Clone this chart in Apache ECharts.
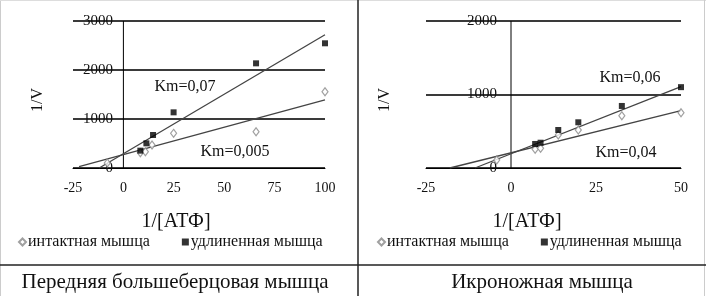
<!DOCTYPE html>
<html><head><meta charset="utf-8">
<script src="https://cdn.jsdelivr.net/npm/echarts@6/dist/echarts.min.js"></script>
<style>html,body{margin:0;padding:0;background:#fff}#c{width:706px;height:296px}</style>
</head><body><div id="c"></div>
<script>
// Left chart: Передняя большеберцовая мышца
const leftIntactX = [-8, 8.4, 10.9, 14.2, 24.9, 65.8, 100];
const leftIntactY = [100, 313, 333, 469, 707, 741, 1558];
const leftElongX = [8.4, 11.4, 14.7, 24.9, 65.8, 100];
const leftElongY = [354, 503, 673, 1136, 2136, 2545];
const leftIntactTrendX = [-22, 100];
const leftIntactTrendY = [28, 1390];
const leftElongTrendX = [-12, 100];
const leftElongTrendY = [0, 2720];
// Right chart: Икроножная мышца
const rightIntactX = [-4.2, 7.1, 8.7, 13.9, 19.8, 32.6, 50];
const rightIntactY = [110, 254, 268, 449, 517, 712, 752];
const rightElongX = [7.1, 8.7, 13.9, 19.8, 32.6, 50];
const rightElongY = [327, 344, 517, 622, 844, 1100];
const rightIntactTrendX = [-18, 50];
const rightIntactTrendY = [0, 780];
const rightElongTrendX = [-10.6, 50];
const rightElongTrendY = [0, 1106];

const names = ['интактная мышца', 'удлиненная мышца'];
const kmLeft = ['Km=0,07', 'Km=0,005'];
const kmRight = ['Km=0,06', 'Km=0,04'];
const titles = ['Передняя большеберцовая мышца', 'Икроножная мышца'];
const xName = '1/[АТФ]';
const yName = '1/V';

const zip = (a, b) => a.map((v, i) => [v, b[i]]);
const FONT = '"Liberation Serif", "Times New Roman", serif';

function xAxis(gi, min, max) {
  return {type: 'value', gridIndex: gi, min: min, max: max, interval: 25,
    axisLine: {onZero: true, lineStyle: {color: '#000', width: 1}},
    axisTick: {show: false}, splitLine: {show: false},
    axisLabel: {margin: 13, color: '#111', fontFamily: FONT, fontSize: 14}};
}
function yAxis(gi, max, labelMargin) {
  return {type: 'value', gridIndex: gi, min: 0, max: max, interval: 1000,
    axisLine: {show: false},
    axisTick: {show: false},
    splitLine: {show: true, lineStyle: {color: '#3a3a3a', width: 2}},
    axisLabel: {inside: true, align: 'right', margin: labelMargin, color: '#111',
      fontFamily: FONT, fontSize: 15, formatter: v => String(v)}};
}
function scatter(name, gi, x, y, isIntact) {
  return {type: 'scatter', name: name, xAxisIndex: gi, yAxisIndex: gi,
    data: zip(x, y), z: 5,
    symbol: isIntact ? 'diamond' : 'rect', symbolSize: isIntact ? [6, 8] : 6,
    itemStyle: isIntact ? {color: '#fff', borderColor: '#888', borderWidth: 1.2} : {color: '#000'}};
}
function trend(gi, x, y) {
  return {type: 'line', xAxisIndex: gi, yAxisIndex: gi, data: zip(x, y),
    symbol: 'none', silent: true, z: 4,
    lineStyle: {color: '#444', width: 1.3}};
}
function yAxisLine(gi, max) {
  // vertical value axis crossing the x axis at 0
  return {type: 'line', xAxisIndex: gi, yAxisIndex: gi, data: [[0, 0], [0, max]],
    symbol: 'none', silent: true, z: 3,
    lineStyle: {color: '#000', width: 1}};
}
function txt(x, y, s, size, extra) {
  return Object.assign({type: 'text', x: x, y: y,
    style: {text: s, fill: '#111', font: size + 'px ' + FONT, textAlign: 'center', textVerticalAlign: 'middle'}}, extra || {});
}
const legendBase = {itemWidth: 7, itemHeight: 7, itemGap: 32, data: names,
  textStyle: {fontFamily: FONT, fontSize: 16, color: '#111', padding: [0, 0, 0, -3]}};

const chart = echarts.init(document.getElementById('c'));
chart.setOption({
  animation: false,
  grid: [
    {left: 73, right: 381, top: 21, bottom: 128},
    {left: 426, right: 25, top: 21, bottom: 128}
  ],
  xAxis: [xAxis(0, -25, 100), xAxis(1, -25, 50)],
  yAxis: [yAxis(0, 3000, 40), yAxis(1, 2000, 71)],
  legend: [
    Object.assign({left: 13, top: 229}, legendBase),
    Object.assign({left: 372, top: 229}, legendBase)
  ],
  series: [
    yAxisLine(0, 3000),
    yAxisLine(1, 2000),
    scatter(names[0], 0, leftIntactX, leftIntactY, true),
    scatter(names[1], 0, leftElongX, leftElongY, false),
    trend(0, leftIntactTrendX, leftIntactTrendY),
    trend(0, leftElongTrendX, leftElongTrendY),
    scatter(names[0], 1, rightIntactX, rightIntactY, true),
    scatter(names[1], 1, rightElongX, rightElongY, false),
    trend(1, rightIntactTrendX, rightIntactTrendY),
    trend(1, rightElongTrendX, rightElongTrendY)
  ],
  graphic: [
    {type: 'line', shape: {x1: 0.5, y1: 0, x2: 0.5, y2: 296}, style: {stroke: '#ccc', lineWidth: 1}},
    {type: 'line', shape: {x1: 0, y1: 0.5, x2: 706, y2: 0.5}, style: {stroke: '#ddd', lineWidth: 1}},
    {type: 'line', shape: {x1: 704.5, y1: 0, x2: 704.5, y2: 296}, style: {stroke: '#ccc', lineWidth: 1}},
    {type: 'line', shape: {x1: 358, y1: 0, x2: 358, y2: 296}, style: {stroke: '#222', lineWidth: 1.5}},
    {type: 'line', shape: {x1: 0, y1: 265, x2: 706, y2: 265}, style: {stroke: '#222', lineWidth: 1.5}},
    txt(38, 100, yName, 16, {rotation: Math.PI / 2}),
    txt(385, 100, yName, 16, {rotation: Math.PI / 2}),
    txt(176, 222, xName, 20),
    txt(527, 222, xName, 20),
    txt(185, 87, kmLeft[0], 16),
    txt(235, 152, kmLeft[1], 16),
    txt(630, 78, kmRight[0], 16),
    txt(626, 153, kmRight[1], 16),
    txt(175, 282, titles[0], 21),
    txt(542, 282, titles[1], 21)
  ]
});
</script></body></html>
